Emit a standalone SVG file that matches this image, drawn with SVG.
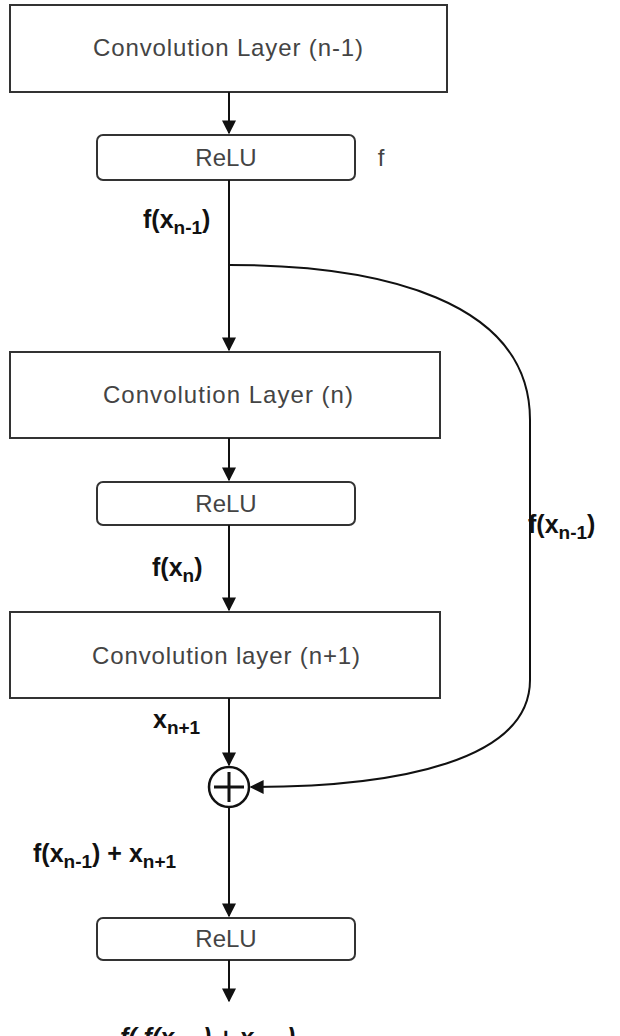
<svg xmlns="http://www.w3.org/2000/svg" width="620" height="1036" viewBox="0 0 620 1036">
<style>
.box{fill:#fff;stroke:#333;stroke-width:2}
.t{font-family:"Liberation Sans",Arial,sans-serif;font-size:24px;fill:#444;text-anchor:middle}
.b{font-family:"Liberation Sans",Arial,sans-serif;font-size:25px;font-weight:bold;fill:#111}
.c{fill:none;stroke:#111;stroke-width:2}
</style>
<defs><marker id="a2" viewBox="0 0 10 10" refX="9" refY="5" markerWidth="14" markerHeight="14" orient="auto" markerUnits="userSpaceOnUse"><path d="M0,0L10,5L0,10z" fill="#111"/></marker></defs>
<rect width="620" height="1036" fill="#fff"/>
<g id="conv1"><rect class="box" x="10" y="5" width="437" height="87"/><text class="t" x="228" y="56" textLength="270">Convolution Layer (n-1)</text></g>
<g id="relu1"><rect class="box" x="97" y="135" width="258" height="45" rx="6"/><text class="t" x="226" y="166">ReLU</text></g>
<text class="t" x="381" y="166">f</text>
<g id="conv2"><rect class="box" x="10" y="352" width="430" height="86"/><text class="t" x="228" y="403" textLength="250">Convolution Layer (n)</text></g>
<g id="relu2"><rect class="box" x="97" y="482" width="258" height="43" rx="6"/><text class="t" x="226" y="512">ReLU</text></g>
<g id="conv3"><rect class="box" x="10" y="612" width="430" height="86"/><text class="t" x="226" y="664" textLength="268">Convolution layer (n+1)</text></g>
<g id="sum"><circle cx="229" cy="787" r="20" fill="#fff" stroke="#111" stroke-width="2.5"/><path d="M214,787H244M229,772V802" stroke="#111" stroke-width="3"/></g>
<g id="relu3"><rect class="box" x="97" y="918" width="258" height="42" rx="6"/><text class="t" x="226" y="947">ReLU</text></g>
<g id="connectors">
<line class="c" x1="229" y1="92" x2="229" y2="133" marker-end="url(#a2)"/>
<line class="c" x1="229" y1="180" x2="229" y2="350" marker-end="url(#a2)"/>
<path class="c" d="M229,265 C380,265 530,300 530,420 V680 C530,760 400,787 251,787" marker-end="url(#a2)"/>
<line class="c" x1="229" y1="438" x2="229" y2="480" marker-end="url(#a2)"/>
<line class="c" x1="229" y1="525" x2="229" y2="610" marker-end="url(#a2)"/>
<line class="c" x1="229" y1="698" x2="229" y2="765" marker-end="url(#a2)"/>
<line class="c" x1="229" y1="807" x2="229" y2="916" marker-end="url(#a2)"/>
<line class="c" x1="229" y1="960" x2="229" y2="1001" marker-end="url(#a2)"/>
</g>
<text class="b" x="143" y="228">f(x<tspan font-size="19" dy="6">n-1</tspan><tspan dy="-6">)</tspan></text>
<text class="b" x="528" y="533">f(x<tspan font-size="19" dy="6">n-1</tspan><tspan dy="-6">)</tspan></text>
<text class="b" x="152" y="576">f(x<tspan font-size="19" dy="6">n</tspan><tspan dy="-6">)</tspan></text>
<text class="b" x="153" y="728">x<tspan font-size="19" dy="6">n+1</tspan></text>
<text class="b" x="33" y="862">f(x<tspan font-size="19" dy="6">n-1</tspan><tspan dy="-6">) + x</tspan><tspan font-size="19" dy="6">n+1</tspan></text>
<text class="b" x="120" y="1046" font-style="italic">f( f(x<tspan font-size="19" dy="6">n-1</tspan><tspan dy="-6">) + x</tspan><tspan font-size="19" dy="6">n+1</tspan><tspan dy="-6">)</tspan></text>
</svg>
